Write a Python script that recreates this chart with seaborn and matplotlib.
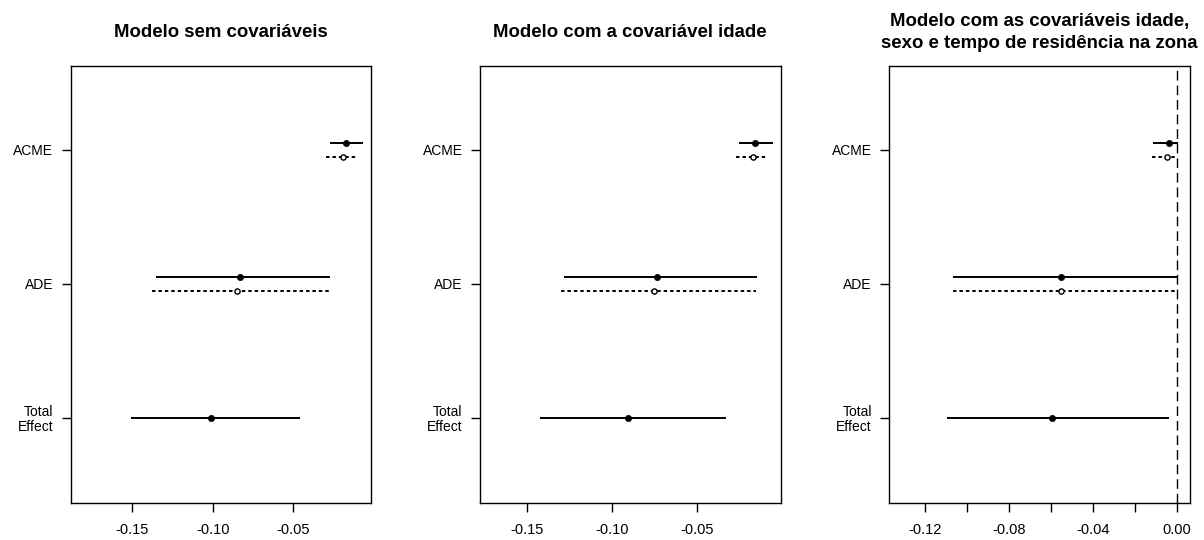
import numpy as np
import pandas as pd
import matplotlib
matplotlib.use("Agg")
import matplotlib.pyplot as plt
import seaborn as sns

# --- data (three mediation models) ---
model_titles = [
    "Modelo sem covariáveis",
    "Modelo com a covariável idade",
    "Modelo com as covariáveis idade,\nsexo e tempo de residência na zona",
]
effect_labels = ["ACME", "ADE", "Total\nEffect"]

# treated (solid, filled point) and control (dashed, open point)
acme_t_est = [-0.0169, -0.0160, -0.0035]
acme_t_lo = [-0.0273, -0.0256, -0.0112]
acme_t_hi = [-0.0067, -0.0058, 0.0008]
acme_c_est = [-0.0192, -0.0176, -0.0045]
acme_c_lo = [-0.0294, -0.0276, -0.0116]
acme_c_hi = [-0.0099, -0.0091, -0.0003]

ade_t_est = [-0.0831, -0.0737, -0.0553]
ade_t_lo = [-0.1352, -0.1279, -0.1065]
ade_t_hi = [-0.0270, -0.0150, 0.0008]
ade_c_est = [-0.0848, -0.0755, -0.0553]
ade_c_lo = [-0.1379, -0.1299, -0.1065]
ade_c_hi = [-0.0273, -0.0154, -0.0003]

tot_est = [-0.1012, -0.0909, -0.0593]
tot_lo = [-0.1510, -0.1420, -0.1097]
tot_hi = [-0.0460, -0.0332, -0.0035]

x_limits = [(-0.1884, -0.0014), (-0.1774, -0.0013), (-0.1370, 0.0063)]
x_ticks = [[-0.15, -0.10, -0.05], [-0.15, -0.10, -0.05],
           [-0.12, -0.10, -0.08, -0.06, -0.04, -0.02, 0.00]]

# --- style ---
sns.set_style("ticks")
plt.rcParams["font.family"] = ["Liberation Sans", "DejaVu Sans"]
plt.rcParams["axes.unicode_minus"] = False
plt.rcParams["text.color"] = "black"
plt.rcParams["xtick.color"] = "black"
plt.rcParams["ytick.color"] = "black"
plt.rcParams["xtick.labelcolor"] = "black"
plt.rcParams["ytick.labelcolor"] = "black"

fig = plt.figure(figsize=(12.04, 5.40), dpi=100)
lefts = [70.7 / 1204, 480 / 1204, 889.3 / 1204]
bottom = (540 - 503.3) / 540
height = (503.3 - 65.7) / 540
width = 300.5 / 1204

y_pos = {"ACME": 3, "ADE": 2, "Total\nEffect": 1}
offset = 0.05

for i in range(3):
    ax = fig.add_axes([lefts[i], bottom, width, height])

    rows = []
    rows.append(dict(effect="ACME", grp="treated", est=acme_t_est[i], lo=acme_t_lo[i], hi=acme_t_hi[i]))
    rows.append(dict(effect="ACME", grp="control", est=acme_c_est[i], lo=acme_c_lo[i], hi=acme_c_hi[i]))
    rows.append(dict(effect="ADE", grp="treated", est=ade_t_est[i], lo=ade_t_lo[i], hi=ade_t_hi[i]))
    rows.append(dict(effect="ADE", grp="control", est=ade_c_est[i], lo=ade_c_lo[i], hi=ade_c_hi[i]))
    rows.append(dict(effect="Total\nEffect", grp="total", est=tot_est[i], lo=tot_lo[i], hi=tot_hi[i]))
    df = pd.DataFrame(rows)
    df["y"] = df["effect"].map(y_pos)
    df.loc[df["grp"] == "treated", "y"] += offset
    df.loc[df["grp"] == "control", "y"] -= offset

    solid = df[df["grp"] != "control"]
    dashed = df[df["grp"] == "control"]

    ax.hlines(solid["y"], solid["lo"], solid["hi"], color="black", lw=1.4, zorder=2)
    ax.hlines(dashed["y"], dashed["lo"], dashed["hi"], color="black", lw=1.4,
              linestyles=[(0, (1.8, 1.5))], zorder=2)

    sns.scatterplot(data=solid, x="est", y="y", ax=ax, color="black", s=20,
                    edgecolor="black", linewidth=0.5, zorder=3, legend=False)
    sns.scatterplot(data=dashed, x="est", y="y", ax=ax, color="white", s=14,
                    edgecolor="black", linewidth=1.0, zorder=3, legend=False)

    ax.axvline(0, color="black", lw=1.0, linestyle=(0, (7, 3.5)), zorder=1)

    ax.set_xlim(*x_limits[i])
    ax.set_ylim(0.363, 3.629)
    ax.set_yticks(list(y_pos.values()))
    ax.set_yticklabels(list(y_pos.keys()), fontsize=10, linespacing=1.05)
    ticks = x_ticks[i]
    ax.set_xticks(ticks)
    if len(ticks) > 3:
        ax.set_xticklabels([f"{t:.2f}" if k % 2 == 0 else "" for k, t in enumerate(ticks)])
    else:
        ax.set_xticklabels([f"{t:.2f}" for t in ticks])
    ax.tick_params(axis="x", labelsize=10.5, length=6.5, width=1.0, pad=8,
                   color="black", labelcolor="black")
    ax.tick_params(axis="y", length=6.5, width=1.0, pad=6,
                   color="black", labelcolor="black")
    ax.set_xlabel("")
    ax.set_ylabel("")
    for sp in ax.spines.values():
        sp.set_visible(True)
        sp.set_color("black")
        sp.set_linewidth(1.0)

    ax.text(0.5, 1 + (65.7 - 32.5) / 437.6, model_titles[i], transform=ax.transAxes,
            ha="center", va="center", fontsize=13.4, fontweight="bold",
            linespacing=1.4, color="black")

fig.savefig("out.png", dpi=100)
